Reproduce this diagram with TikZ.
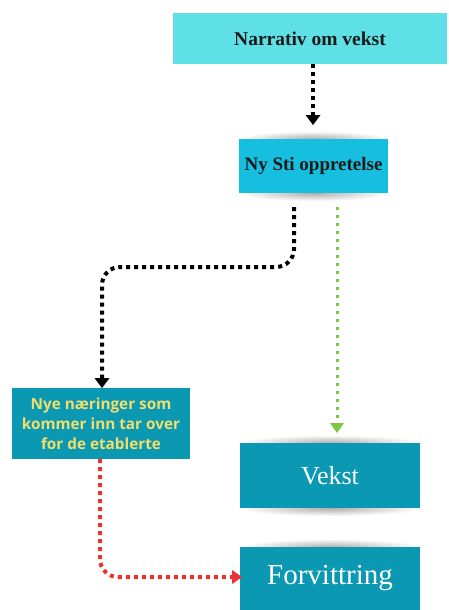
\documentclass[tikz,border=0pt]{standalone}
\usepackage{fontspec}
\setmainfont{Liberation Serif}
\newfontfamily\osans{Open Sans}
\usetikzlibrary{arrows.meta}
\definecolor{topc}{HTML}{5EE0E6}
\definecolor{stic}{HTML}{16BEE0}
\definecolor{tealc}{HTML}{0A98B2}
\definecolor{yel}{HTML}{F4DF6A}
\definecolor{grn}{HTML}{7CC843}
\definecolor{redc}{HTML}{EE3030}
\definecolor{txt}{HTML}{1A1A1A}
\tikzset{
  boxbase/.style={rectangle, inner sep=0pt, outer sep=0pt, align=center},
  blkdot/.style={line width=4pt, dash pattern=on 4pt off 4pt, black, rounded corners=18pt},
  grndot/.style={line width=3pt, dash pattern=on 3pt off 5pt, grn},
  reddot/.style={line width=4pt, dash pattern=on 4pt off 4pt, redc, rounded corners=18pt},
  shd/.style={inner color=black!32, outer color=white}
}
\begin{document}
\begin{tikzpicture}[x=1pt,y=-1pt]
\useasboundingbox (0,0) rectangle (449,610);
% shadows
\shade[shd] (313.5,139) ellipse (76pt and 8pt);
\shade[shd] (313.5,193) ellipse (76pt and 8pt);
\shade[shd] (330,443) ellipse (92pt and 8pt);
\shade[shd] (330,508) ellipse (92pt and 8pt);
\shade[shd] (330,547) ellipse (92pt and 8pt);
% boxes
\node[boxbase, fill=topc, minimum width=274pt, minimum height=51pt, font=\bfseries\fontsize{19.5}{22}\selectfont, text=txt] (top) at (310,38.5) {Narrativ om vekst};
\node[boxbase, fill=stic, minimum width=149pt, minimum height=54pt, font=\bfseries\fontsize{19}{22}\selectfont, text=txt] (sti) at (313.5,166) {Ny Sti oppretelse};
\node[boxbase, fill=tealc, minimum width=178pt, minimum height=71pt, font=\osans\bfseries\fontsize{15.3}{20}\selectfont, text=yel] (nye) at (101,423.5) {Nye næringer som\\kommer inn tar over\\for de etablerte};
\node[boxbase, fill=tealc, minimum width=180pt, minimum height=65pt, font=\fontsize{26}{30}\selectfont, text=white] (vekst) at (330,475.5) {Vekst};
\node[boxbase, fill=tealc, minimum width=180pt, minimum height=63pt, font=\fontsize{29}{32}\selectfont, text=white] (forv) at (330,578.5) {\raisebox{4pt}{Forvittring}};
% connector end points
\coordinate (a1s) at (313,66);
\coordinate (a1e) at (313,125);
\coordinate (b1s) at (294,207);
\coordinate (b1e) at (102,388);
\coordinate (g1s) at (337,207);
\coordinate (g1e) at (337,433);
\coordinate (r1s) at (100,462);
\coordinate (r1e) at (242,577);
% connectors
\draw[line width=4pt, dash pattern=on 4pt off 4pt, black, -{Triangle[width=15pt,length=10pt,line width=0pt]}] (top.south -| a1s) -- (a1e);
\draw[blkdot, -{Triangle[width=15pt,length=10pt,line width=0pt]}] (b1s) -- (294,267) -- (102,267) -- (b1e);
\draw[grndot, -{Triangle[width=14pt,length=10pt,line width=0pt,round]}] (g1s) -- (g1e);
\draw[reddot, -{Triangle[width=14pt,length=10pt,line width=0pt,round]}] (nye.south -| r1s) -- (100,577) -- (r1e);
\end{tikzpicture}
\end{document}
